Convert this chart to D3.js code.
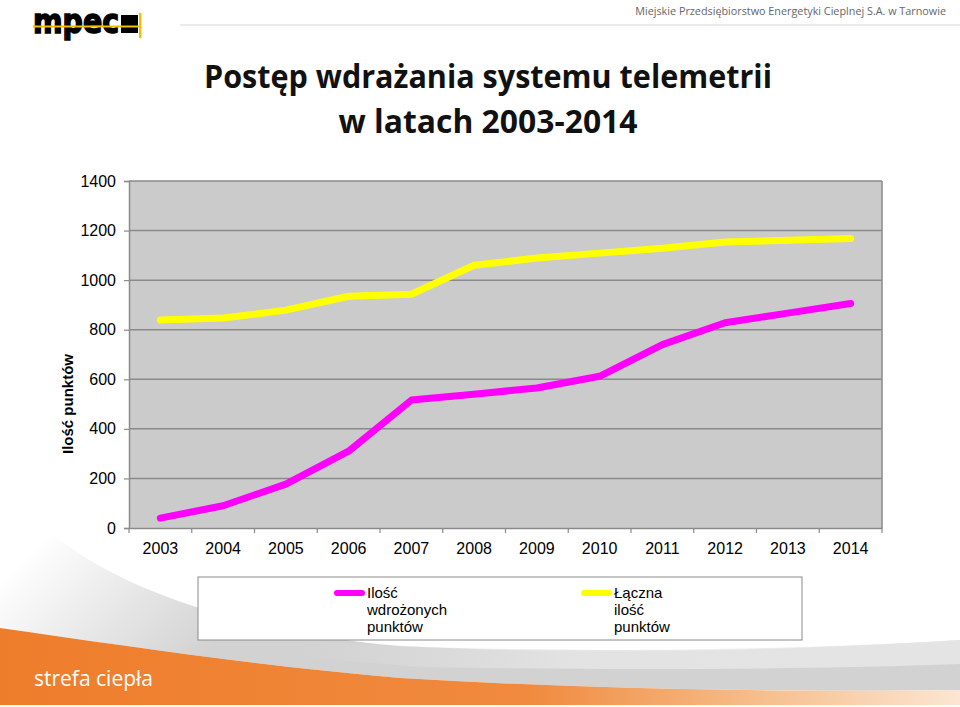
<!DOCTYPE html>
<html><head><meta charset="utf-8">
<script src="https://cdn.jsdelivr.net/npm/d3@7"></script>
<style>html,body{margin:0;padding:0;background:#fff;}svg{display:block;}</style>
</head><body>
<script>
const years = ['2003','2004','2005','2006','2007','2008','2009','2010','2011','2012','2013','2014'];
const wdrozone = [40, 90, 177, 310, 516, 540, 565, 612, 740, 828, 867, 906];
const laczna = [839, 847, 879, 935, 943, 1060, 1089, 1109, 1129, 1154, 1161, 1168];
const yTicks = [0, 200, 400, 600, 800, 1000, 1200, 1400];
const seriesNames = [['Ilość','wdrożonych','punktów'], ['Łączna','ilość','punktów']];
const seriesColors = ['#ff00ff', '#ffff00'];

const W = 960, H = 707;
const svg = d3.select('body').append('svg').attr('width', W).attr('height', H);
const defs = svg.append('defs');

// background decorations
const og = defs.append('linearGradient').attr('id','og').attr('x1','0').attr('x2','1').attr('y1','0').attr('y2','0');
og.append('stop').attr('offset','0').attr('stop-color','#ee7d2b');
og.append('stop').attr('offset','0.55').attr('stop-color','#f08a3e');
og.append('stop').attr('offset','0.8').attr('stop-color','#f6c08f');
og.append('stop').attr('offset','1').attr('stop-color','#fce6d2');
const gg = defs.append('linearGradient').attr('id','gg').attr('gradientUnits','userSpaceOnUse')
  .attr('x1',60).attr('y1',520).attr('x2',200).attr('y2',660);
gg.append('stop').attr('offset','0').attr('stop-color','#ffffff');
gg.append('stop').attr('offset','0.5').attr('stop-color','#e8e8e8');
gg.append('stop').attr('offset','1').attr('stop-color','#d2d2d2');
const gr = defs.append('linearGradient').attr('id','gr').attr('x1','0').attr('x2','1').attr('y1','0').attr('y2','0');
gr.append('stop').attr('offset','0').attr('stop-color','#e0e0e0').attr('stop-opacity',0);
gr.append('stop').attr('offset','0.4').attr('stop-color','#e4e4e4').attr('stop-opacity',0.9);
gr.append('stop').attr('offset','1').attr('stop-color','#ececec').attr('stop-opacity',0.7);

svg.append('path')
  .attr('d','M0,483 C60,560 180,626 400,646 C600,656 800,650 960,640 L960,690 C800,692 600,690 400,678 C250,665 120,645 0,628 Z')
  .attr('fill','url(#gg)');
svg.append('path')
  .attr('d','M300,640 C500,656 800,650 960,640 L960,664 C800,670 600,670 420,667 C380,664 340,660 300,656 Z')
  .attr('fill','url(#gr)');
svg.append('path')
  .attr('d','M0,628 C120,645 250,665 400,678 C600,690 800,692 960,690 L960,705 L0,705 Z')
  .attr('fill','url(#og)');
svg.append('text').attr('x',34).attr('y',686).text('strefa ciepła')
  .attr('font-family','Open Sans, sans-serif').attr('font-size',21).attr('fill','#fff');

// header
svg.append('line').attr('x1',180).attr('x2',960).attr('y1',25).attr('y2',25).attr('stroke','#d8d8d8').attr('stroke-width',1);
svg.append('text').attr('x',946).attr('y',15).attr('text-anchor','end')
  .text('Miejskie Przedsiębiorstwo Energetyki Cieplnej S.A. w Tarnowie')
  .attr('font-family','Open Sans, sans-serif').attr('font-size',10.8).attr('fill','#666');
// logo
const logo = svg.append('g');
logo.append('text').attr('x',33).attr('y',33).attr('textLength',86).attr('lengthAdjust','spacingAndGlyphs')
  .text('mpec').attr('font-family','DejaVu Sans, sans-serif').attr('font-weight',900).attr('font-size',34)
  .attr('fill','#000').attr('stroke','#000').attr('stroke-width',1.6);
logo.append('rect').attr('x',121).attr('y',15).attr('width',17).attr('height',18).attr('fill','#000');
logo.append('rect').attr('x',33).attr('y',25.5).attr('width',107).attr('height',2).attr('fill','#f2c200');
logo.append('rect').attr('x',139).attr('y',13).attr('width',2.5).attr('height',25).attr('fill','#f2c200');

// title
svg.append('text').attr('x',488).attr('y',88).attr('text-anchor','middle').attr('textLength',568).attr('lengthAdjust','spacingAndGlyphs')
  .text('Postęp wdrażania systemu telemetrii')
  .attr('font-family','Open Sans, sans-serif').attr('font-weight',700).attr('font-size',33).attr('fill','#111');
svg.append('text').attr('x',488).attr('y',133).attr('text-anchor','middle').attr('textLength',299).attr('lengthAdjust','spacingAndGlyphs')
  .text('w latach 2003-2014')
  .attr('font-family','Open Sans, sans-serif').attr('font-weight',700).attr('font-size',33).attr('fill','#111');

// chart
const L = 129, R = 882, T = 181, B = 528;
const x = d3.scaleBand().domain(years).range([L, R]).padding(0);
const y = d3.scaleLinear().domain([0, 1400]).range([B, T]);

svg.append('rect').attr('x',L).attr('y',T).attr('width',R-L).attr('height',B-T).attr('fill','#cbcbcb');
svg.append('g').selectAll('line').data(yTicks.filter(d=>d>0)).join('line')
  .attr('x1',L).attr('x2',R).attr('y1',d=>y(d)).attr('y2',d=>y(d)).attr('stroke','#8a8a8a').attr('stroke-width',1.5);
svg.append('line').attr('x1',R).attr('x2',R).attr('y1',T).attr('y2',B).attr('stroke','#8a8a8a').attr('stroke-width',1.5);

const font = 'Liberation Sans, Arial, sans-serif';
const yAxis = svg.append('g').attr('transform',`translate(${L},0)`)
  .call(d3.axisLeft(y).tickValues(yTicks).tickSize(5).tickPadding(8).tickFormat(d3.format('d')));
yAxis.select('.domain').attr('stroke','#8a8a8a').attr('stroke-width',1.5);
yAxis.selectAll('.tick line').attr('stroke','#8a8a8a').attr('stroke-width',1.2);
yAxis.selectAll('.tick text').attr('font-family',font).attr('font-size',16).attr('fill','#000');

const xAxis = svg.append('g').attr('transform',`translate(0,${B})`)
  .call(d3.axisBottom(x).tickSize(0).tickPadding(15));
xAxis.select('.domain').attr('stroke','#8a8a8a').attr('stroke-width',1.5);
xAxis.selectAll('.tick text').attr('font-family',font).attr('font-size',16).attr('fill','#000');
svg.append('g').selectAll('line').data(years.concat(['end'])).join('line')
  .attr('x1',(d,i)=>L + i*x.bandwidth()).attr('x2',(d,i)=>L + i*x.bandwidth())
  .attr('y1',B).attr('y2',B+5).attr('stroke','#8a8a8a').attr('stroke-width',1.2);

svg.append('text').attr('transform','translate(73,404) rotate(-90)').attr('text-anchor','middle')
  .text('Ilość punktów').attr('font-family',font).attr('font-weight',700).attr('font-size',15).attr('fill','#000');

const line = d3.line().x((d,i)=>x(years[i]) + x.bandwidth()/2).y(d=>y(d));
[laczna, wdrozone].forEach((s, k) => {
  svg.append('path').attr('d', line(s)).attr('fill','none')
    .attr('stroke', seriesColors[1-k]).attr('stroke-width',7)
    .attr('stroke-linejoin','round').attr('stroke-linecap','round');
});

// legend
svg.append('rect').attr('x',198).attr('y',577).attr('width',604).attr('height',63)
  .attr('fill','#fff').attr('stroke','#8a8a8a').attr('stroke-width',1);
const lx = [334, 581];
seriesNames.forEach((names, i) => {
  svg.append('line').attr('x1',lx[i]+3).attr('x2',lx[i]+28).attr('y1',593).attr('y2',593)
    .attr('stroke',seriesColors[i]).attr('stroke-width',6).attr('stroke-linecap','round');
  names.forEach((t, j) => {
    svg.append('text').attr('x',lx[i]+33).attr('y',598 + j*17).text(t)
      .attr('font-family',font).attr('font-size',15).attr('fill','#000');
  });
});
</script>
</body></html>
